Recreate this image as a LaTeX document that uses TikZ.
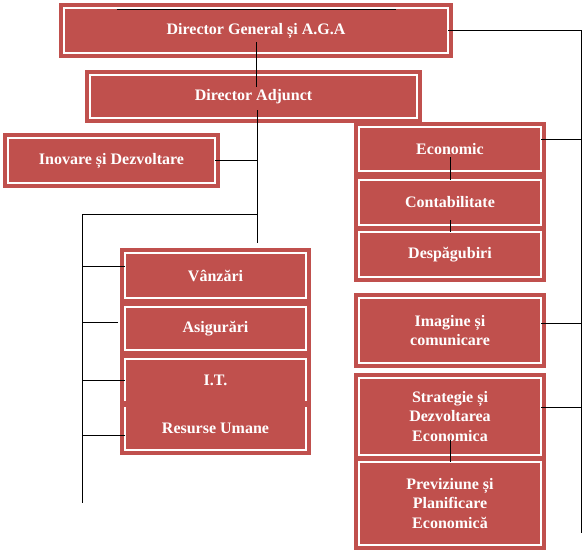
\documentclass[tikz,border=0pt]{standalone}
\usepackage{fontspec}
\setmainfont{Liberation Serif}
\usepackage{tikz}
\usetikzlibrary{calc}
\definecolor{orgred}{RGB}{192,80,77}
\tikzset{
  unit/.style={rectangle, draw=white, fill=orgred, line width=1.8pt,
    preaction={draw=orgred, line width=10pt},
    text=white, align=center, inner sep=0pt, outer sep=0pt,
    font=\bfseries\fontsize{16}{19.5}\selectfont},
  openunit/.style={unit, draw=none},
  leftunit/.style={unit, minimum width=181pt},
  rightunit/.style={unit, minimum width=182pt},
  frame/.style={draw=white, line width=1.8pt},
  link/.style={draw=black, line width=1pt}
}

\begin{document}
\begin{tikzpicture}[x=1pt, y=-1pt]
  \useasboundingbox (0,0) rectangle (583,554);
  \node[unit, minimum width=384pt, minimum height=45pt] (dg) at (256,30.5) {Director General și A.G.A};
  \node[unit, minimum width=327pt, minimum height=43pt] (da) at (253.5,96.5) {Director Adjunct};
  \node[unit, minimum width=207pt, minimum height=45pt] (inov) at (111.5,160.5) {Inovare și Dezvoltare};
  \node[rightunit, minimum height=44pt] (econ) at (450,149) {Economic};
  \node[rightunit, minimum height=45pt] (contab) at (450,202.5) {Contabilitate};
  \node[rightunit, minimum height=45pt] (desp) at (450,254.5) {Despăgubiri};
  \node[rightunit, minimum height=65pt] (imag) at (450,330.5) {Imagine și\\comunicare};
  \node[rightunit, minimum height=77pt] (strat) at (450,416.5) {Strategie și\\Dezvoltarea\\Economica};
  \node[rightunit, minimum height=83pt] (prev) at (450,503.5) {Previziune și\\Planificare\\Economică};
  \node[leftunit, minimum height=45pt] (vanz) at (215.5,275.5) {Vânzări};
  \node[leftunit, minimum height=43pt] (asig) at (215.5,328.5) {Asigurări};
  \node[leftunit, openunit, minimum height=42pt] (it) at (215.5,380) {I.T.};
  \node[leftunit, openunit, minimum height=43pt] (ru) at (215.5,428.5) {Resurse Umane};
  \draw[frame] (it.south west) -- (it.north west) -- (it.north east) -- (it.south east);
  \draw[frame] (ru.north west) -- (ru.south west) -- (ru.south east) -- (ru.north east);

  \coordinate (rtop) at (581,30.5);
  \coordinate (rbot) at (581,533);
  \coordinate (spine) at (257,243);
  \coordinate (ltop) at (82,214);
  \coordinate (lbot) at (82,503);

  \draw[link] ([xshift=-139pt, yshift=-1.5pt]dg.north) -- ([xshift=140pt, yshift=-1.5pt]dg.north);
  \draw[link] ([yshift=-11.5pt]dg.center) -- ([yshift=-11.5pt]dg.center |- da.north);
  \draw[link] (dg.east) -- (dg.east -| rtop) -- (rbot);
  \draw[link] ([yshift=10pt]econ.east) -- ([yshift=10pt]econ.east -| rtop);
  \draw[link] ([yshift=7.5pt]imag.east) -- ([yshift=7.5pt]imag.east -| rtop);
  \draw[link] ([yshift=9.5pt]strat.east) -- ([yshift=9.5pt]strat.east -| rtop);
  \draw[link] ($(spine |- da.center)+(0,13.5)$) -- (spine);
  \draw[link] (inov.east) -- (inov.east -| spine);
  \draw[link] (spine |- ltop) -- (ltop) -- (lbot);
  \draw[link] ([yshift=9.5pt]vanz.west) -- ([yshift=9.5pt]vanz.west -| ltop);
  \draw[link] ([xshift=-7pt, yshift=6.5pt]asig.west) -- ([yshift=6.5pt]asig.west -| ltop);
  \draw[link] (it.west) -- (it.west -| ltop);
  \draw[link] ([yshift=-6.5pt]ru.west) -- ([yshift=-6.5pt]ru.west -| ltop);
  \draw[link] ([yshift=-8pt]econ.center) -- (contab.north);
  \draw[link] ([yshift=-17.5pt]contab.center) -- (desp.north);
  \draw[link] ([yshift=-23.5pt]strat.center) -- (prev.north);
\end{tikzpicture}
\end{document}
